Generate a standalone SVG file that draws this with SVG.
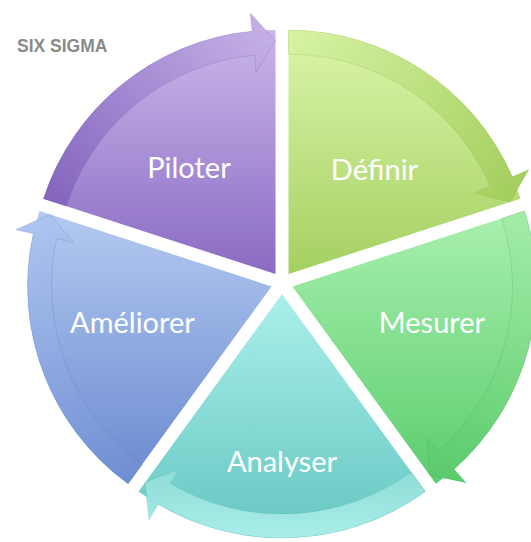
<svg xmlns="http://www.w3.org/2000/svg" width="531" height="542" viewBox="0 0 531 542">
  <defs>
    <linearGradient id="gP" x1="0" y1="0" x2="0" y2="1"><stop offset="0" stop-color="#c9b6ea"/><stop offset="1" stop-color="#8a6bc3"/></linearGradient>
    <linearGradient id="gPb" gradientUnits="userSpaceOnUse" x1="60" y1="205" x2="260" y2="30"><stop offset="0" stop-color="#8566be"/><stop offset="1" stop-color="#c3afe6"/></linearGradient>
    <linearGradient id="gD" x1="0" y1="0" x2="0" y2="1"><stop offset="0" stop-color="#dcf5aa"/><stop offset="1" stop-color="#a4d061"/></linearGradient>
    <linearGradient id="gDb" gradientUnits="userSpaceOnUse" x1="290" y1="40" x2="510" y2="200"><stop offset="0" stop-color="#d6f2a2"/><stop offset="1" stop-color="#a3cf5e"/></linearGradient>
    <linearGradient id="gM" x1="0" y1="0" x2="0" y2="1"><stop offset="0" stop-color="#a9f0ae"/><stop offset="1" stop-color="#5ccd6f"/></linearGradient>
    <linearGradient id="gMb" gradientUnits="userSpaceOnUse" x1="515" y1="215" x2="440" y2="480"><stop offset="0" stop-color="#a3eca8"/><stop offset="1" stop-color="#5acb6c"/></linearGradient>
    <linearGradient id="gA" x1="0" y1="0" x2="0" y2="1"><stop offset="0" stop-color="#aaefeb"/><stop offset="1" stop-color="#66c6c1"/></linearGradient>
    <linearGradient id="gAb" gradientUnits="userSpaceOnUse" x1="0" y1="470" x2="0" y2="540"><stop offset="0" stop-color="#8fdcd7"/><stop offset="1" stop-color="#aaeeea"/></linearGradient>
    <linearGradient id="gE" x1="0" y1="0" x2="0" y2="1"><stop offset="0" stop-color="#b4caf1"/><stop offset="1" stop-color="#6a89cf"/></linearGradient>
    <linearGradient id="gEb" gradientUnits="userSpaceOnUse" x1="130" y1="480" x2="40" y2="220"><stop offset="0" stop-color="#6f8ed2"/><stop offset="1" stop-color="#adc4f0"/></linearGradient>
  </defs>
  <style>
    .band { stroke-width: 1; stroke-opacity: 0.22; }
    .lbl { font-family: Lato, "Open Sans", "DejaVu Sans", sans-serif; font-size: 29px; fill: #ffffff; text-anchor: middle; }
    .title { font-family: "Liberation Sans", Arial, sans-serif; font-weight: bold; font-size: 17.5px; fill: #8a8a8a; }
  </style>
  <rect width="531" height="542" fill="#ffffff"/>
  <text class="title" x="17" y="52">SIX SIGMA</text>

  <g id="piloter">
    <path d="M275.53,274.10 L275.53,30.10 A244,244 0 0 0 43.47,198.70 Z" fill="url(#gP)"/>
    <path class="band" d="M43.47,198.70 A244,244 0 0 1 252.14,31.22 L250.42,13.31 L275.53,41.10 L256.07,72.03 L254.44,55.11 A220,220 0 0 0 66.30,206.12 Z" fill="url(#gPb)" stroke="#6a4ea6"/>
    <text class="lbl" x="189" y="178">Piloter</text>
  </g>

  <g id="definir">
    <path d="M288.47,274.10 L288.47,30.10 A244,244 0 0 1 520.53,198.70 Z" fill="url(#gD)"/>
    <path class="band" d="M288.47,30.10 A244,244 0 0 1 512.23,176.80 L528.74,169.63 L510.07,202.10 L474.63,193.15 L490.22,186.37 A220,220 0 0 0 288.47,54.10 Z" fill="url(#gDb)" stroke="#7ea43c"/>
    <text class="lbl" x="374.5" y="180">Définir</text>
  </g>

  <g id="mesurer">
    <path d="M292.46,286.40 L524.52,211.00 A244,244 0 0 1 435.88,483.80 Z" fill="url(#gM)"/>
    <path class="band" d="M524.52,211.00 A244,244 0 0 1 454.14,469.15 L466.07,482.63 L429.42,474.90 L426.97,438.44 L438.24,451.17 A220,220 0 0 0 501.69,218.42 Z" fill="url(#gMb)" stroke="#3a9e4c"/>
    <text class="lbl" x="432" y="333">Mesurer</text>
  </g>

  <g id="analyser">
    <path d="M282,294 L425.42,491.40 A244,244 0 0 1 138.58,491.40 Z" fill="url(#gA)"/>
    <path class="band" d="M425.42,491.40 A244,244 0 0 1 158.16,504.24 L149.02,519.75 L145.04,482.50 L178.97,468.91 L170.34,483.56 A220,220 0 0 0 411.31,471.98 Z" fill="url(#gAb)" stroke="#4aa9a4"/>
    <text class="lbl" x="282" y="472">Analyser</text>
  </g>

  <g id="ameliorer">
    <path d="M271.54,286.40 L128.12,483.80 A244,244 0 0 1 39.48,211.00 Z" fill="url(#gE)"/>
    <path class="band" d="M128.12,483.80 A244,244 0 0 1 33.32,233.59 L15.75,229.69 L49.94,214.40 L73.35,242.46 L56.75,238.78 A220,220 0 0 0 142.23,464.38 Z" fill="url(#gEb)" stroke="#4d6db5"/>
    <text class="lbl" x="132.5" y="333">Améliorer</text>
  </g>

  <g id="connectors"></g>
</svg>
